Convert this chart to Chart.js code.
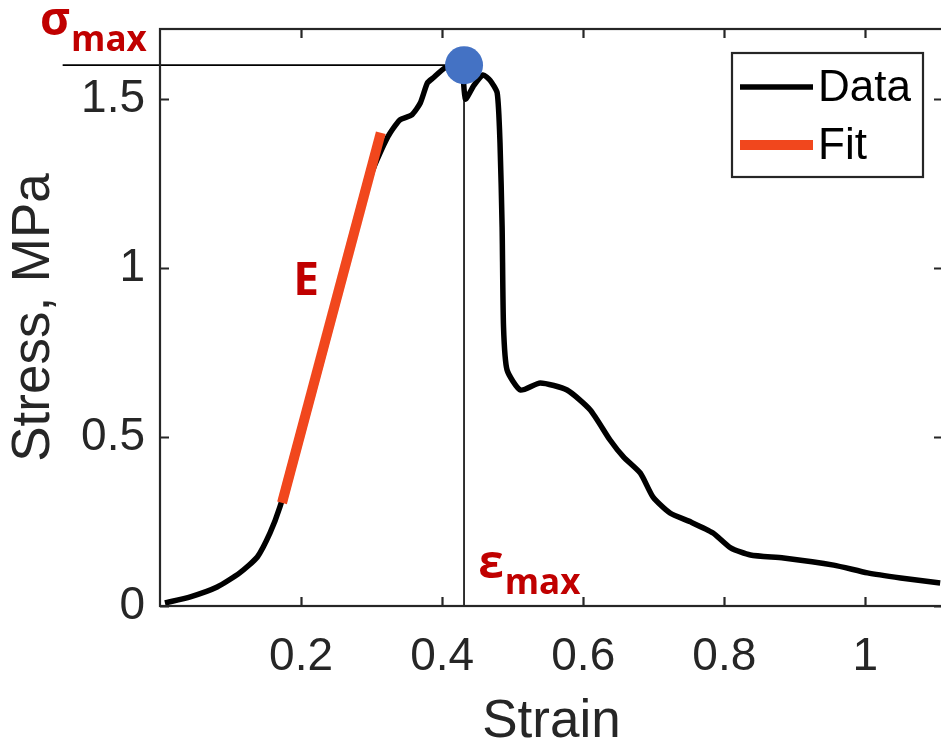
<!DOCTYPE html>
<html>
<head>
<meta charset="utf-8">
<script src="https://cdn.jsdelivr.net/npm/chart.js@4.4.1/dist/chart.umd.min.js"></script>
<style>
  html, body { margin: 0; padding: 0; background: #fff; overflow: hidden; }
  #wrap { width: 944px; height: 745px; }
</style>
</head>
<body>
<div id="wrap"><canvas id="c"></canvas></div>
<script>
// ---- measured stress-strain curve
const strain = [0.007, 0.043, 0.081, 0.113, 0.138, 0.156, 0.170, 0.200, 0.250, 0.300,
  0.323, 0.340, 0.357, 0.369, 0.379, 0.387, 0.404, 0.420, 0.428, 0.433, 0.445, 0.458,
  0.468, 0.478, 0.482, 0.485, 0.487, 0.492, 0.511, 0.539, 0.577, 0.610, 0.638, 0.657,
  0.681, 0.699, 0.723, 0.752, 0.784, 0.809, 0.837, 0.884, 0.955, 1.003, 1.050, 1.106];
const stress = [0.009, 0.027, 0.056, 0.098, 0.145, 0.216, 0.293, 0.500, 0.890, 1.280,
  1.388, 1.438, 1.453, 1.488, 1.547, 1.562, 1.592, 1.600, 1.598, 1.500, 1.540, 1.571,
  1.555, 1.518, 1.370, 1.121, 0.825, 0.698, 0.639, 0.660, 0.639, 0.580, 0.491, 0.441,
  0.393, 0.322, 0.275, 0.249, 0.216, 0.172, 0.151, 0.142, 0.121, 0.098, 0.083, 0.068];

// ---- linear fit over the elastic region (modulus E)
const fitStrain = [0.173, 0.313];
const fitStress = [0.305, 1.400];

// ---- ultimate point
const epsMax = 0.431;
const sigmaMax = 1.60;

// ---- axes
const xTicks = [0.2, 0.4, 0.6, 0.8, 1];
const yTicks = [0, 0.5, 1, 1.5];
const X_RANGE = [0, 1.11];
const Y_RANGE = [0, 1.707];
const LEADER_LEFT = -0.138;   // sigma leader runs out past the y axis
const LEGEND_ORDER = ["Data", "Fit"];

const AXIS = "#262626";
const RED = "#C00000";
const TICK = 9;

const pts = (xs, ys) => xs.map((x, i) => ({ x, y: ys[i] }));
const noPad = s => { s.paddingLeft = s.paddingRight = s.paddingTop = s.paddingBottom = 0; };

// MATLAB-like box with inward ticks on all four sides
const boxPlugin = {
  id: "box",
  afterDatasetsDraw(chart) {
    const { ctx, chartArea: a, scales: { x, y } } = chart;
    ctx.save();
    ctx.strokeStyle = AXIS;
    ctx.lineWidth = 2.2;
    ctx.strokeRect(a.left, a.top, a.right - a.left, a.bottom - a.top);
    ctx.beginPath();
    x.ticks.forEach(t => {
      const px = Math.round(x.getPixelForValue(t.value)) + 0.5;
      ctx.moveTo(px, a.bottom); ctx.lineTo(px, a.bottom - TICK);
      ctx.moveTo(px, a.top); ctx.lineTo(px, a.top + TICK);
    });
    y.ticks.forEach(t => {
      const py = Math.round(y.getPixelForValue(t.value)) + 0.5;
      ctx.moveTo(a.left, py); ctx.lineTo(a.left + TICK, py);
      ctx.moveTo(a.right, py); ctx.lineTo(a.right - TICK, py);
    });
    ctx.stroke();
    ctx.restore();
  },
};

// red symbol labels: sigma_max, E, eps_max
const NOTES = [
  { main: "σ", sub: "max", x: -0.170, y: 1.690 },
  { main: "E", sub: "", x: 0.189, y: 0.920 },
  { main: "ε", sub: "max", x: 0.451, y: 0.083 },
];
const notePlugin = {
  id: "notes",
  afterDraw(chart) {
    const { ctx, scales: { x, y } } = chart;
    ctx.save();
    ctx.fillStyle = RED;
    ctx.textBaseline = "alphabetic";
    ctx.textAlign = "left";
    NOTES.forEach(n => {
      const px = x.getPixelForValue(n.x), py = y.getPixelForValue(n.y);
      ctx.font = "bold 46px 'Open Sans', 'DejaVu Sans', sans-serif";
      ctx.fillText(n.main, px, py);
      if (n.sub) {
        const w = ctx.measureText(n.main).width;
        ctx.font = "bold 35px 'Open Sans', 'DejaVu Sans', sans-serif";
        ctx.fillText(n.sub, px + w + 1, py + 16);
      }
    });
    ctx.restore();
  },
};

// boxed legend in the upper right corner
const legendPlugin = {
  id: "boxLegend",
  afterDraw(chart) {
    const { ctx, chartArea: a } = chart;
    const items = LEGEND_ORDER.map(l => chart.data.datasets.find(d => d.label === l));
    const left = a.right - 211, top = a.top + 24, w = 191, h = 124;
    ctx.save();
    ctx.fillStyle = "#fff";
    ctx.fillRect(left, top, w, h);
    ctx.strokeStyle = AXIS;
    ctx.lineWidth = 2.2;
    ctx.strokeRect(left, top, w, h);
    ctx.font = "44px 'Liberation Sans', Arial, sans-serif";
    ctx.textBaseline = "middle";
    ctx.textAlign = "left";
    items.forEach((d, i) => {
      const ly = top + 34 + i * 58;
      ctx.beginPath();
      ctx.strokeStyle = d.borderColor;
      ctx.lineWidth = d.borderWidth;
      ctx.moveTo(left + 8, ly); ctx.lineTo(left + 81, ly);
      ctx.stroke();
      ctx.fillStyle = "#000";
      ctx.fillText(d.label, left + 86, ly + 2);
    });
    ctx.restore();
  },
};

new Chart(document.getElementById("c"), {
  type: "scatter",
  data: {
    datasets: [
      { label: "", data: [{ x: epsMax, y: sigmaMax }], pointRadius: 19, pointHoverRadius: 19,
        backgroundColor: "#4472C4", borderColor: "#4472C4", borderWidth: 0, order: 0, clip: false },
      { label: "Fit", data: pts(fitStrain, fitStress), showLine: true, borderColor: "#F1471D",
        borderWidth: 10, pointRadius: 0, borderCapStyle: "butt", order: 1 },
      { label: "Data", data: pts(strain, stress), showLine: true, borderColor: "#000",
        borderWidth: 5.5, pointRadius: 0, tension: 0.2, borderJoinStyle: "round", order: 2 },
      { label: "", data: [{ x: LEADER_LEFT, y: sigmaMax }, { x: epsMax, y: sigmaMax }], showLine: true,
        borderColor: "#000", borderWidth: 1.6, pointRadius: 0, clip: false, order: 3 },
      { label: "", data: [{ x: epsMax, y: sigmaMax }, { x: epsMax, y: 0 }], showLine: true,
        borderColor: "#000", borderWidth: 1.6, pointRadius: 0, clip: false, order: 3 },
    ],
  },
  options: {
    responsive: true, maintainAspectRatio: false, animation: false,
    layout: { autoPadding: false, padding: { top: 29, right: 1, left: 0, bottom: 0 } },
    plugins: { legend: { display: false }, tooltip: { enabled: false } },
    scales: {
      x: {
        type: "linear", min: X_RANGE[0], max: X_RANGE[1],
        afterBuildTicks: s => { s.ticks = xTicks.map(v => ({ value: v })); },
        afterFit: s => { s.height = 139; noPad(s); },
        grid: { display: false, drawTicks: false },
        border: { display: false },
        ticks: { color: AXIS, padding: 24, maxRotation: 0, autoSkip: false,
          font: { family: "'Liberation Sans', Arial, sans-serif", size: 46 },
          callback: v => String(v) },
        title: { display: true, text: "Strain", color: AXIS, padding: { top: 0, bottom: -4 },
          font: { family: "'Liberation Sans', Arial, sans-serif", size: 53, lineHeight: 1 } },
      },
      y: {
        type: "linear", min: Y_RANGE[0], max: Y_RANGE[1],
        afterBuildTicks: s => { s.ticks = yTicks.map(v => ({ value: v })); },
        afterFit: s => { s.width = 160; noPad(s); },
        grid: { display: false, drawTicks: false },
        border: { display: false },
        ticks: { color: AXIS, padding: 15, autoSkip: false,
          font: { family: "'Liberation Sans', Arial, sans-serif", size: 46 },
          callback: v => String(v) },
        title: { display: true, text: "Stress, MPa", color: AXIS, padding: { top: 8, bottom: 0 },
          font: { family: "'Liberation Sans', Arial, sans-serif", size: 53, lineHeight: 1 } },
      },
    },
  },
  plugins: [boxPlugin, notePlugin, legendPlugin],
});
</script>
</body>
</html>
